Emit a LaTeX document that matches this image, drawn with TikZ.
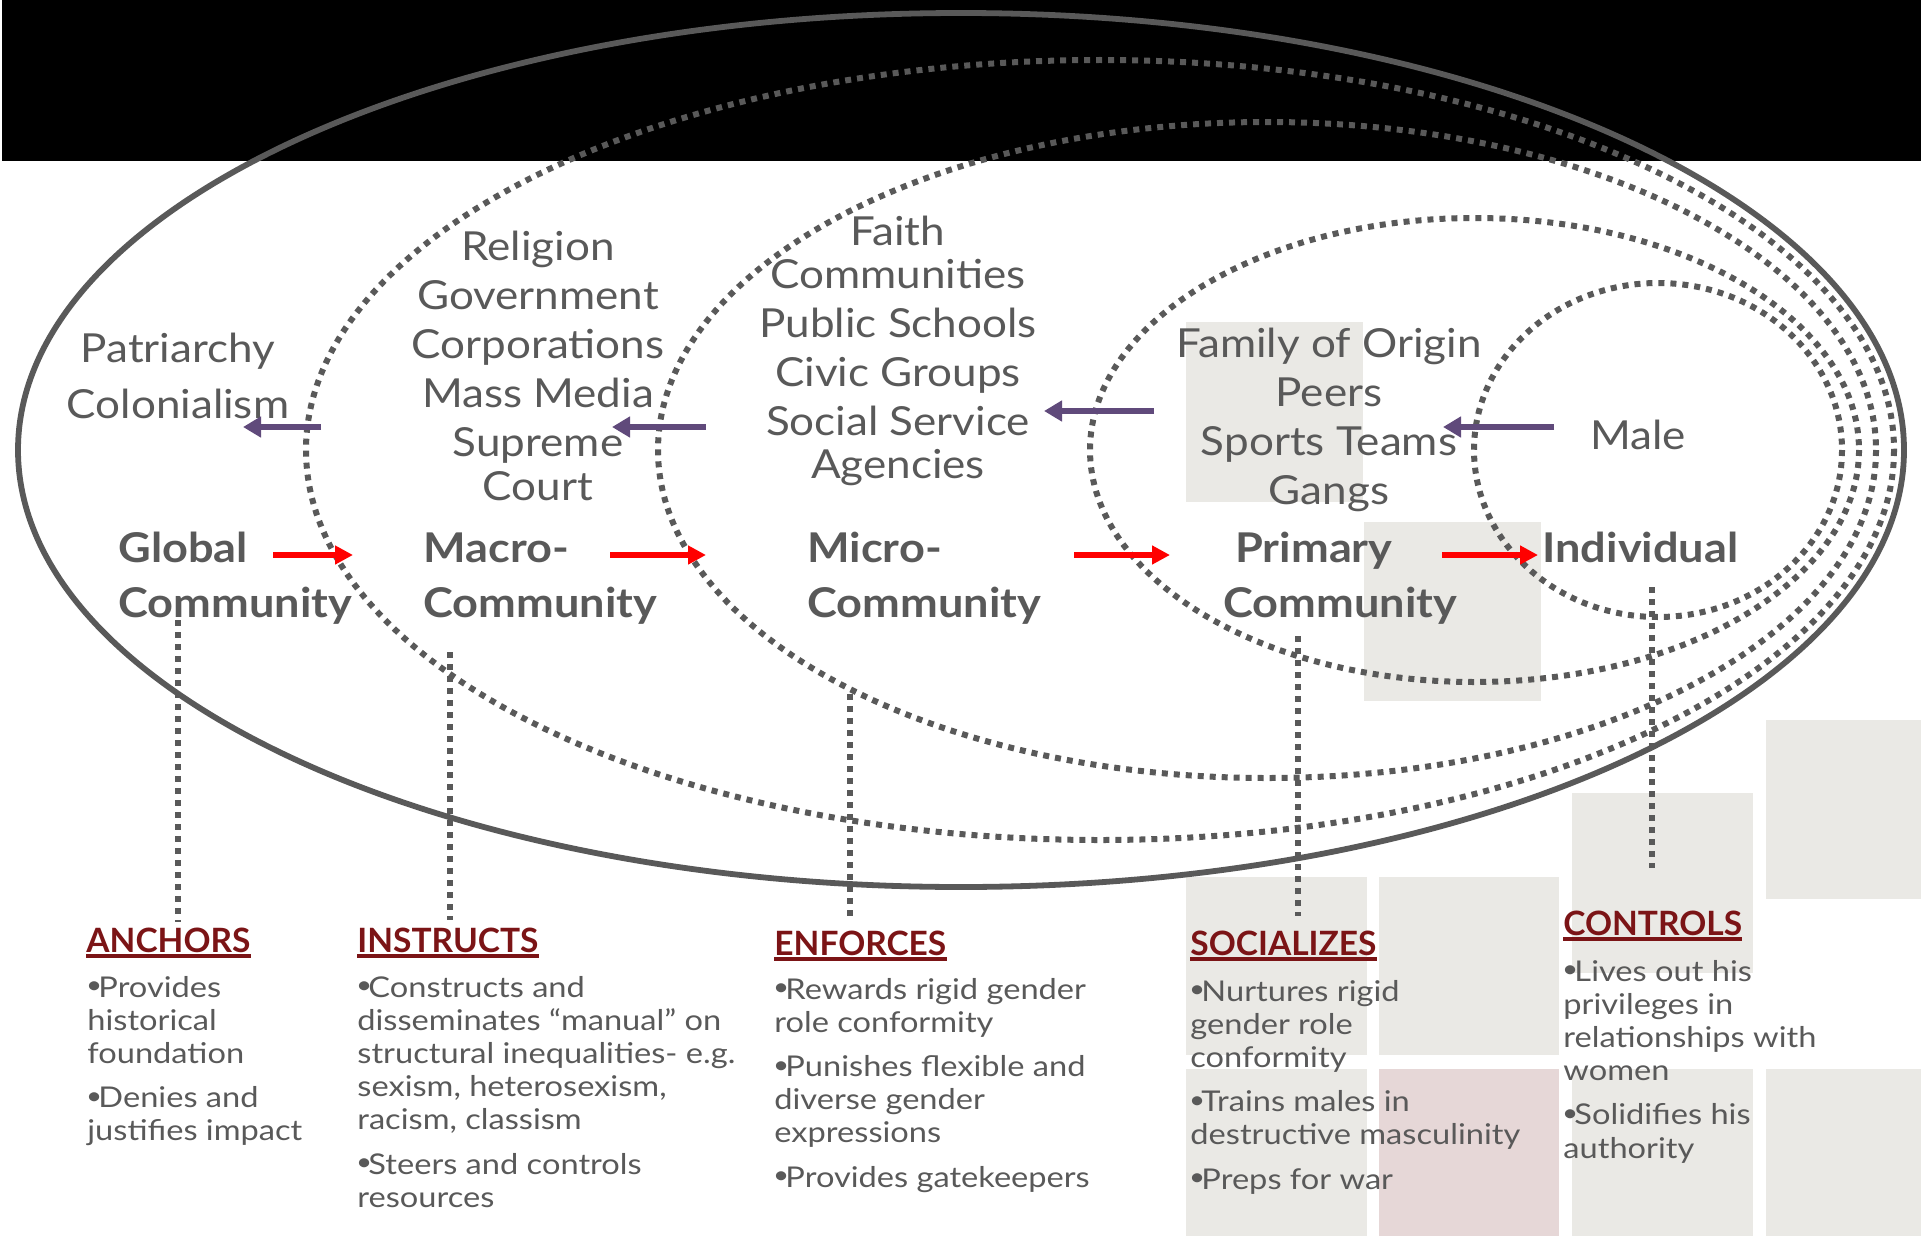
\documentclass[tikz,border=0pt]{standalone}
\usepackage{fontspec}
\usepackage{graphicx}
\setmainfont{Lato}[FakeStretch=1.1]
\newfontfamily\headfont{Lato}
\newfontfamily\bodyfont{Lato}[FakeStretch=1.14]
\usetikzlibrary{arrows.meta}
\definecolor{txtgray}{HTML}{595959}
\definecolor{lngray}{HTML}{595959}
\definecolor{arred}{HTML}{FF0000}
\definecolor{arpurple}{HTML}{604A7B}
\definecolor{headred}{HTML}{7B1416}
\definecolor{boxgray}{HTML}{EAE9E5}
\definecolor{boxpink}{HTML}{E6D7D7}
\newcommand\lcol[2]{\vtop{\baselineskip=#1\lineskiplimit=-50pt\lineskip=0pt\halign{##\hfil\cr#2\crcr}}}
\newcommand\ccol[2]{\vtop{\baselineskip=#1\lineskiplimit=-50pt\lineskip=0pt\halign{\hfil##\hfil\cr#2\crcr}}}
\newcommand\pgap{\noalign{\vskip5.5pt}}
\newcommand\tgap{\noalign{\vskip-3pt}}
\newcommand\bul{\kern-0.6pt\raisebox{1.6pt}{\scalebox{0.85}{•}}\kern-1.9pt}
\tikzset{
  lbl/.style={inner sep=0pt, text=txtgray, font=\fontsize{20pt}{24pt}\selectfont},
  blbl/.style={inner sep=0pt, text=txtgray, font=\fontsize{20.5pt}{24pt}\selectfont\bfseries, anchor=base west},
  head/.style={inner sep=0pt, text=headred, font=\headfont\fontsize{16.75pt}{20pt}\selectfont\bfseries, anchor=base west},
  body/.style={inner sep=0pt, text=txtgray, font=\bodyfont\fontsize{14.3pt}{16.6pt}\selectfont, anchor=base west},
  ring/.style={draw=lngray, line width=3pt, dash pattern=on 3pt off 3pt},
  outerring/.style={draw=lngray, line width=2.9pt},
  link/.style={draw=lngray, line width=3pt, dash pattern=on 3pt off 3pt},
  fwd/.style={draw=arred, line width=3.2pt, -{Triangle[length=9pt,width=9pt]}},
  back/.style={draw=arpurple, line width=3.2pt, -{Triangle[length=9pt,width=10pt]}},
  uline/.style={draw=headred, line width=1.6pt},
  boxg/.style={fill=boxgray},
  boxp/.style={fill=boxpink}
}
\begin{document}
\begin{tikzpicture}[x=0.5pt,y=-0.5pt]
\useasboundingbox (0,0) rectangle (1931,1236);
% banner
\fill[black] (2,0) rectangle (1921,161);
% background tiles
\fill[boxg] (1186,322) rectangle (1363,502);
\fill[boxg] (1364,522) rectangle (1541,701);
\fill[boxg] (1766,720) rectangle (1921,899);
\fill[boxg] (1572,793) rectangle (1753,973);
\fill[boxg] (1186,877) rectangle (1367,1055);
\fill[boxg] (1379,877) rectangle (1559,1055);
\fill[boxg] (1186,1069) rectangle (1367,1236);
\fill[boxp] (1379,1069) rectangle (1559,1236);
\fill[boxg] (1572,1069) rectangle (1753,1236);
\fill[boxg] (1766,1069) rectangle (1921,1236);
% rings
\draw[outerring] (961,450) ellipse [x radius=943, y radius=437];
\draw[ring] (1100,450) ellipse [x radius=794, y radius=390];
\draw[ring] (1267,450) ellipse [x radius=609, y radius=328];
\draw[ring] (1474.5,450) ellipse [x radius=384.5, y radius=232];
\draw[ring] (1658,450) ellipse [x radius=184, y radius=167];
% upper labels
\node[lbl, anchor=base] (pat) at (178,362) {\ccol{28pt}{Patriarchy\cr Colonialism}};
\node[lbl, anchor=base] (macrolist) at (538,260) {\ccol{24.5pt}{Religion\cr Government\cr Corporations\cr Mass Media\cr Supreme\cr\noalign{\vskip-2.5pt}Court}};
\node[lbl, anchor=base] (microlist) at (898,245) {\ccol{24.5pt}{Faith\cr\tgap Communities\cr Public Schools\cr Civic Groups\cr Social Service\cr\tgap Agencies}};
\node[lbl, anchor=base] (primlist) at (1329,357) {\ccol{24.5pt}{Family of Origin\cr Peers\cr Sports Teams\cr Gangs}};
\node[lbl, anchor=base] (male) at (1638,449) {Male};
% level labels
\node[blbl] (global) at (118,562) {\lcol{27.5pt}{Global\cr Community}};
\node[blbl] (macro) at (423,562) {\lcol{27.5pt}{Macro-\cr Community}};
\node[blbl] (micro) at (807,562) {\lcol{27.5pt}{Micro-\cr Community}};
\node[blbl] (primary) at (1223,562) {\lcol{27.5pt}{\hspace{6pt}Primary\cr Community}};
\node[blbl] (indiv) at (1542,562) {Individual};
% red arrows
\coordinate (ra1) at (273,555); \coordinate (rb1) at (353,555);
\coordinate (ra2) at (610,555); \coordinate (rb2) at (706,555);
\coordinate (ra3) at (1074,555); \coordinate (rb3) at (1170,555);
\coordinate (ra4) at (1442,555); \coordinate (rb4) at (1538,555);
\draw[fwd] (ra1) -- (rb1);
\draw[fwd] (ra2) -- (rb2);
\draw[fwd] (ra3) -- (rb3);
\draw[fwd] (ra4) -- (rb4);
% purple arrows
\coordinate (pa1) at (321,427); \coordinate (pb1) at (243,427);
\coordinate (pa2) at (706,427); \coordinate (pb2) at (612,427);
\coordinate (pa3) at (1154,411); \coordinate (pb3) at (1044,411);
\coordinate (pa4) at (1554,427); \coordinate (pb4) at (1443,427);
\draw[back] (pa1) -- (pb1);
\draw[back] (pa2) -- (pb2);
\draw[back] (pa3) -- (pb3);
\draw[back] (pa4) -- (pb4);
% headings
\node[head] (anchors) at (86,952) {ANCHORS};
\node[head] (instructs) at (357,952) {INSTRUCTS};
\node[head] (enforces) at (774,955) {ENFORCES};
\node[head] (socializes) at (1190,955) {SOCIALIZES};
\node[head] (controls) at (1563,935) {CONTROLS};
\foreach \h in {anchors,instructs,enforces,socializes,controls}
  \draw[uline] ([yshift=-2pt]\h.base west) -- ([yshift=-2pt]\h.base east);
% connectors
\coordinate (c1a) at (178,620); \coordinate (c1b) at (178,922);
\coordinate (c2a) at (450,652); \coordinate (c2b) at (450,920);
\coordinate (c3a) at (850,694); \coordinate (c3b) at (850,921);
\coordinate (c4a) at (1298,636); \coordinate (c4b) at (1298,916);
\coordinate (c5a) at (1652,587); \coordinate (c5b) at (1652,868);
\draw[link] (c1a) -- (c1b);
\draw[link] (c2a) -- (c2b);
\draw[link] (c3a) -- (c3b);
\draw[link] (c4a) -- (c4b);
\draw[link] (c5a) -- (c5b);
% bodies
\node[body] (anchorsbody) at (87,997) {\lcol{16.6pt}{\bul Provides\cr historical\cr foundation\cr\pgap \bul Denies and\cr justifies impact}};
\node[body] (instructsbody) at (357,997) {\lcol{16.6pt}{\bul Constructs and\cr disseminates “manual” on\cr structural inequalities- e.g.\cr sexism, heterosexism,\cr racism, classism\cr\pgap \bul Steers and controls\cr resources}};
\node[body] (enforcesbody) at (774,999) {\lcol{16.6pt}{\bul Rewards rigid gender\cr role conformity\cr\pgap \bul Punishes flexible and\cr diverse gender\cr expressions\cr\pgap \bul Provides gatekeepers}};
\node[body] (socializesbody) at (1190,1001) {\lcol{16.6pt}{\bul Nurtures rigid\cr gender role\cr conformity\cr\pgap \bul Trains males in\cr destructive masculinity\cr\pgap \bul Preps for war}};
\node[body] (controlsbody) at (1563,981) {\lcol{16.6pt}{\bul Lives out his\cr privileges in\cr relationships with\cr women\cr\pgap \bul Solidifies his\cr authority}};
\end{tikzpicture}
\end{document}
